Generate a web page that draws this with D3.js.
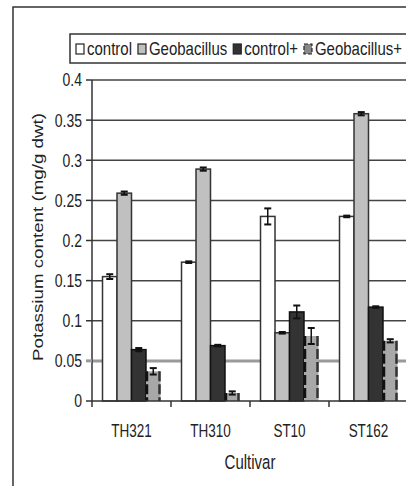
<!DOCTYPE html>
<html>
<head>
<meta charset="utf-8">
<script src="https://cdn.jsdelivr.net/npm/d3@7"></script>
<style>
body { margin: 0; background: #fff; }
text { font-family: "Liberation Sans", Arial, sans-serif; fill: #222; }
</style>
</head>
<body>
<script>
// chart size
var w = 406;
var h = 486;

// data
var cultivars = ["TH321", "TH310", "ST10", "ST162"];
var seriesNames = ["control", "Geobacillus", "control+", "Geobacillus+"];
var control = [0.155, 0.173, 0.230, 0.230];
var controlErr = [0.003, 0.001, 0.010, 0.001];
var geobacillus = [0.259, 0.289, 0.085, 0.358];
var geobacillusErr = [0.002, 0.002, 0.001, 0.002];
var controlPlus = [0.064, 0.069, 0.111, 0.117];
var controlPlusErr = [0.002, 0.001, 0.008, 0.001];
var geobacillusPlus = [0.037, 0.010, 0.081, 0.075];
var geobacillusPlusErr = [0.004, 0.002, 0.010, 0.002];
var yTicks = [0, 0.05, 0.1, 0.15, 0.2, 0.25, 0.3, 0.35, 0.4];
var yTickLabels = ["0", "0.05", "0.1", "0.15", "0.2", "0.25", "0.3", "0.35", "0.4"];

var values = [control, geobacillus, controlPlus, geobacillusPlus];
var errors = [controlErr, geobacillusErr, controlPlusErr, geobacillusPlusErr];

var colorLine = "#333";
var stretch = 1.25; // the source picture is taller than it is wide

var svg = d3.select("body")
	.append("svg")
	.attr("width", w)
	.attr("height", h);

// outer frame
svg.append("rect")
	.attr("x", 13)
	.attr("y", 7)
	.attr("width", 420)
	.attr("height", 500)
	.attr("fill", "none")
	.style("stroke", colorLine)
	.style("stroke-width", 1.5);

var x = d3.scaleBand().domain(cultivars).range([92, 408]);
var xs = d3.scaleBand().domain(seriesNames).range([0, x.bandwidth()]).paddingOuter(0.725);
var y = d3.scaleLinear().domain([0, 0.4]).range([401, 80]);

// put a label, stretched vertically like the source
function label(px, py, str, size, anchor, k) {
	return svg.append("text")
		.attr("transform", "translate(" + px + "," + py + ") scale(1," + k + ")")
		.attr("dy", "0.35em")
		.attr("text-anchor", anchor)
		.attr("font-size", size + "px")
		.text(str);
}

// grid lines
svg.selectAll("line.grid")
	.data(yTicks.slice(1))
	.enter()
	.append("line")
	.attr("class", "grid")
	.attr("x1", 92)
	.attr("x2", 408)
	.attr("y1", function(d) { return y(d); })
	.attr("y2", function(d) { return y(d); })
	.style("stroke", function(d, i) { return i == 0 ? "#9a9a9a" : "#444"; })
	.style("stroke-width", function(d, i) { return i == 0 ? 3 : 1.5; });

// bars
var fills = ["#fff", "#c0c0c0", "#333", "#a8a8a8"];
var strokes = ["#333", "#333", "#111", "none"];

seriesNames.forEach(function(name, s) {
	svg.selectAll("rect.s" + s)
		.data(cultivars)
		.enter()
		.append("rect")
		.attr("class", "s" + s)
		.attr("x", function(d) { return x(d) + xs(name); })
		.attr("y", function(d, i) { return y(values[s][i]); })
		.attr("width", xs.bandwidth())
		.attr("height", function(d, i) { return y(0) - y(values[s][i]); })
		.attr("fill", fills[s])
		.style("stroke", strokes[s])
		.style("stroke-width", 1.5);
});

// dashed edges of the last series
var hatchName = seriesNames[3];
[0, 1].forEach(function(side) {
	svg.selectAll("line.edge" + side)
		.data(cultivars)
		.enter()
		.append("line")
		.attr("x1", function(d) { return x(d) + xs(hatchName) + 1 + side * (xs.bandwidth() - 2); })
		.attr("x2", function(d) { return x(d) + xs(hatchName) + 1 + side * (xs.bandwidth() - 2); })
		.attr("y1", function(d, i) { return y(geobacillusPlus[i]); })
		.attr("y2", y(0))
		.style("stroke", side == 0 ? "#111" : "#333")
		.style("stroke-width", 2.5)
		.style("stroke-dasharray", "10,3");
});

// error bars
seriesNames.forEach(function(name, s) {
	var cx = function(d) { return x(d) + xs(name) + xs.bandwidth() / 2; };
	var g = svg.selectAll("g.err" + s)
		.data(cultivars)
		.enter()
		.append("g");
	g.append("line")
		.attr("x1", cx).attr("x2", cx)
		.attr("y1", function(d, i) { return y(values[s][i] + errors[s][i]); })
		.attr("y2", function(d, i) { return y(values[s][i] - errors[s][i]); })
		.style("stroke", "#111")
		.style("stroke-width", 1.5);
	[1, -1].forEach(function(sign) {
		g.append("line")
			.attr("x1", function(d) { return cx(d) - 3.5; })
			.attr("x2", function(d) { return cx(d) + 3.5; })
			.attr("y1", function(d, i) { return y(values[s][i] + sign * errors[s][i]); })
			.attr("y2", function(d, i) { return y(values[s][i] + sign * errors[s][i]); })
			.style("stroke", "#111")
			.style("stroke-width", 2);
	});
});

// axes
svg.append("line")
	.attr("x1", 92).attr("x2", 92)
	.attr("y1", y(0.4)).attr("y2", y(0) + 6)
	.style("stroke", colorLine)
	.style("stroke-width", 1.5);
svg.append("line")
	.attr("x1", 92).attr("x2", 408)
	.attr("y1", y(0)).attr("y2", y(0))
	.style("stroke", colorLine)
	.style("stroke-width", 1.5);

svg.selectAll("line.ytick")
	.data(yTicks)
	.enter()
	.append("line")
	.attr("x1", 86)
	.attr("x2", 92)
	.attr("y1", function(d) { return y(d); })
	.attr("y2", function(d) { return y(d); })
	.style("stroke", function(d, i) { return i == 1 ? "#9a9a9a" : colorLine; })
	.style("stroke-width", function(d, i) { return i == 1 ? 3 : 1.5; });

yTicks.forEach(function(d, i) {
	label(82, y(d), yTickLabels[i], 14, "end", 1.3);
});

svg.selectAll("line.xtick")
	.data(cultivars.slice(1))
	.enter()
	.append("line")
	.attr("x1", function(d) { return x(d); })
	.attr("x2", function(d) { return x(d); })
	.attr("y1", y(0))
	.attr("y2", y(0) + 6)
	.style("stroke", colorLine)
	.style("stroke-width", 1.5);

cultivars.forEach(function(d) {
	label(x(d) + x.bandwidth() / 2, 431, d, 13.5, "middle", 1.3);
});

label(250, 462, "Cultivar", 15, "middle", 1.3);

svg.append("text")
	.attr("transform", "translate(38,237) rotate(-90) scale(" + stretch + ",1)")
	.attr("dy", "0.35em")
	.attr("text-anchor", "middle")
	.attr("font-size", "15px")
	.text("Potassium content (mg/g dwt)");

// legend
svg.append("rect")
	.attr("x", 70)
	.attr("y", 34)
	.attr("width", 360)
	.attr("height", 29)
	.attr("fill", "#fff")
	.style("stroke", colorLine)
	.style("stroke-width", 1.5);

var lx = 76;
seriesNames.forEach(function(name, s) {
	svg.append("rect")
		.attr("x", lx)
		.attr("y", 44)
		.attr("width", 8)
		.attr("height", 10)
		.attr("fill", s == 3 ? "#888" : fills[s])
		.style("stroke", "#222")
		.style("stroke-width", 1.2)
		.style("stroke-dasharray", s == 3 ? "4,2" : null);
	var t = label(lx + 11, 49, name, 15, "start", 1.2);
	lx += 11 + t.node().getComputedTextLength() + 6;
});
</script>
</body>
</html>
